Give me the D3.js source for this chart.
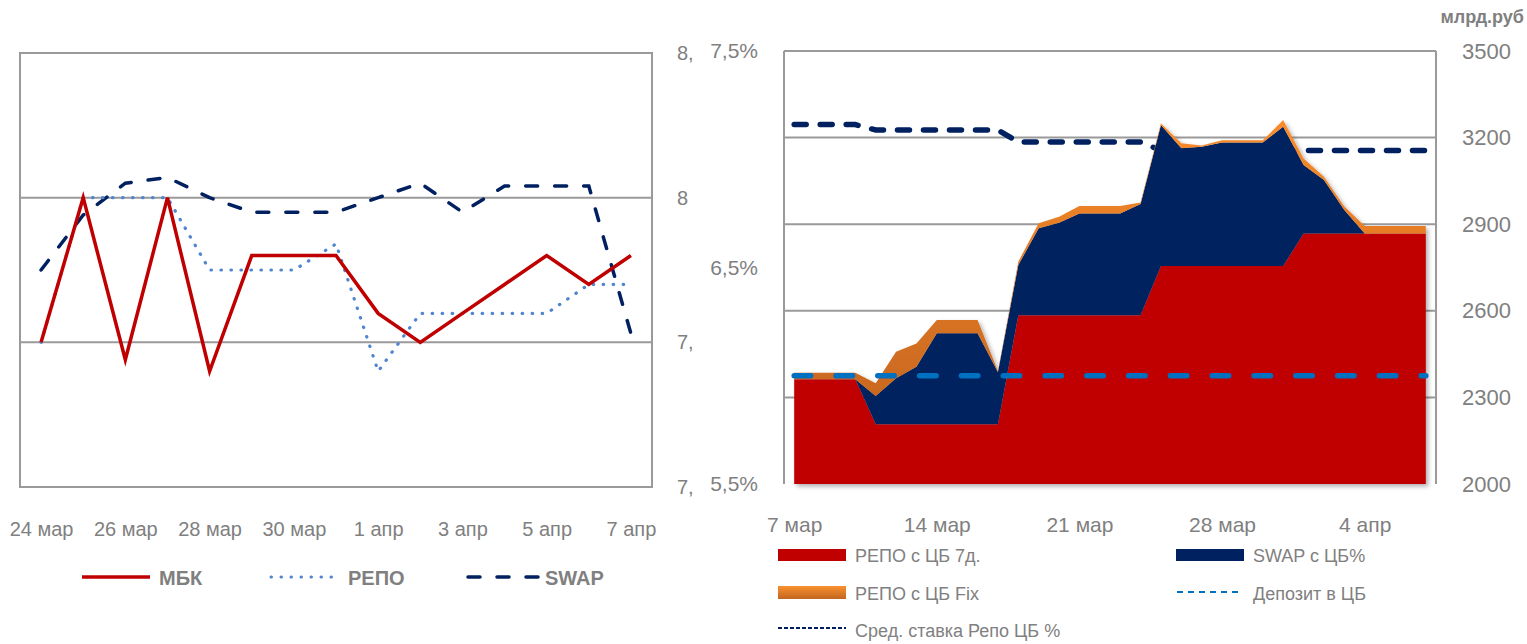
<!DOCTYPE html>
<html><head><meta charset="utf-8">
<script src="https://cdn.jsdelivr.net/npm/d3@7"></script>
<style>
body{margin:0;background:#fff;}
svg text{font-family:"Liberation Sans", Arial, sans-serif; fill:#808080;}
</style></head>
<body>
<svg id="chart" width="1527" height="644"></svg>
<script>
// ---------- LEFT CHART DATA ----------
const leftDates = ["24 мар","25 мар","26 мар","27 мар","28 мар","29 мар","30 мар","31 мар","1 апр","2 апр","3 апр","4 апр","5 апр","6 апр","7 апр"];
const leftTickDates = ["24 мар","26 мар","28 мар","30 мар","1 апр","3 апр","5 апр","7 апр"];
const mbk  = [7.75, 8.00, 7.72, 8.00, 7.70, 7.90, 7.90, 7.90, 7.80, 7.75, 7.80, 7.85, 7.90, 7.85, 7.90];
const repo = [7.75, 8.00, 8.00, 8.00, 7.875, 7.875, 7.875, 7.92, 7.70, 7.80, 7.80, 7.80, 7.80, 7.85, 7.85];
const swap = [7.875, 7.97, 8.025, 8.035, 8.00, 7.975, 7.975, 7.975, 8.00, 8.025, 7.975, 8.02, 8.02, 8.02, 7.765];
const leftYTicks = [7.5, 7.75, 8, 8.25];
const leftLegend = ["МБК", "РЕПО", "SWAP"];

// ---------- RIGHT CHART DATA ----------
const rightDates = ["7 мар","8 мар","9 мар","10 мар","11 мар","12 мар","13 мар","14 мар","15 мар","16 мар","17 мар","18 мар","19 мар","20 мар","21 мар","22 мар","23 мар","24 мар","25 мар","26 мар","27 мар","28 мар","29 мар","30 мар","31 мар","1 апр","2 апр","3 апр","4 апр","5 апр","6 апр","7 апр"];
const rightTickDates = ["7 мар","14 мар","21 мар","28 мар","4 апр"];
const repo7d  = [2363,2363,2363,2363,2207,2207,2207,2207,2207,2207,2207,2585,2585,2585,2585,2585,2585,2585,2755,2755,2755,2755,2755,2755,2755,2868,2868,2868,2868,2868,2868,2868];
const swapCB  = [0,0,0,0,98,159,199,315,315,315,180,174,301,320,352,352,352,385,489,408,413,428,428,428,483,237,185,81,0,0,0,0];
const repoFix = [22,22,22,22,44,92,81,46,46,46,4,11,17,21,26,26,26,5,6,17,5,8,8,8,23,23,11,12,26,26,26,26];
const avgRepoRate = [7.16,7.16,7.16,7.16,7.135,7.135,7.135,7.135,7.135,7.135,7.135,7.08,7.08,7.08,7.08,7.08,7.08,7.08,7.04,7.04,7.04,7.04,7.04,7.04,7.04,7.04,7.04,7.04,7.04,7.04,7.04,7.04];
const depositRate = [6,6,6,6,6,6,6,6,6,6,6,6,6,6,6,6,6,6,6,6,6,6,6,6,6,6,6,6,6,6,6,6];
const volTicks = [2000,2300,2600,2900,3200,3500];
const rateTicks = [5.5,6.5,7.5];
const rightLegend = ["РЕПО с ЦБ 7д.","SWAP с ЦБ%","РЕПО с ЦБ Fix","Депозит в ЦБ","Сред. ставка Репо ЦБ %"];
const unitLabel = "млрд.руб";

const svg = d3.select("#chart");
const GRID = "#9a9a9a", TXT = "#808080";
const comma = d => String(d).replace(".", ",");

const defs = svg.append("defs");
defs.append("clipPath").attr("id","leftClip").append("rect").attr("x",0).attr("y",0).attr("width",694).attr("height",644);
const og = defs.append("linearGradient").attr("id","orangeGrad").attr("gradientUnits","userSpaceOnUse")
  .attr("x1",0).attr("x2",0).attr("y1",110).attr("y2",400);
og.append("stop").attr("offset","0").attr("stop-color","#fb8d2b");
og.append("stop").attr("offset","1").attr("stop-color","#c9681f");
const og2 = defs.append("linearGradient").attr("id","orangeSw").attr("x1",0).attr("x2",0).attr("y1",0).attr("y2",1);
og2.append("stop").attr("offset","0").attr("stop-color","#fb9130");
og2.append("stop").attr("offset","1").attr("stop-color","#c1651f");
const f = defs.append("filter").attr("id","shadow").attr("x","-5%").attr("y","-5%").attr("width","110%").attr("height","110%");
f.append("feDropShadow").attr("dx",2.5).attr("dy",2.5).attr("stdDeviation",2).attr("flood-color","#000").attr("flood-opacity",0.3);

// ================= LEFT CHART =================
const L = {x0:20, x1:652, y0:53, y1:487};
const xL = d3.scalePoint().domain(leftDates).range([L.x0, L.x1]).padding(0.5);
const yL = d3.scaleLinear().domain([7.5, 8.25]).range([L.y1, L.y0]);
const gL = svg.append("g");

gL.selectAll("line.grid").data(leftYTicks.filter(v => v > 7.5 && v < 8.25)).join("line")
  .attr("x1",L.x0).attr("x2",L.x1).attr("y1",d=>yL(d)).attr("y2",d=>yL(d))
  .attr("stroke",GRID).attr("stroke-width",2);
gL.append("rect").attr("x",L.x0).attr("y",L.y0).attr("width",L.x1-L.x0).attr("height",L.y1-L.y0)
  .attr("fill","none").attr("stroke",GRID).attr("stroke-width",2);

const lineL = d3.line().x((d,i)=>xL(leftDates[i])).y(d=>yL(d));
gL.append("path").attr("d",lineL(swap)).attr("fill","none").attr("stroke","#002060")
  .attr("stroke-width",3.5).attr("stroke-dasharray","12,17").attr("stroke-linecap","round");
gL.append("path").attr("d",lineL(repo)).attr("fill","none").attr("stroke","#4f86cf")
  .attr("stroke-width",3.2).attr("stroke-dasharray","0.5,9.5").attr("stroke-linecap","round");
gL.append("path").attr("d",lineL(mbk)).attr("fill","none").attr("stroke","#c00000")
  .attr("stroke-width",3.5).attr("stroke-linejoin","miter");

// right value axis (clipped like reference)
const axL = gL.append("g").attr("clip-path","url(#leftClip)").append("g").attr("transform",`translate(${L.x1},0)`)
  .call(d3.axisRight(yL).tickValues(leftYTicks).tickFormat(comma).tickSize(0).tickPadding(25));
axL.select(".domain").remove();
axL.selectAll("text").attr("font-size",20).attr("font-family",null).style("fill",TXT);

const axLx = gL.append("g").attr("transform",`translate(0,${L.y1})`)
  .call(d3.axisBottom(xL).tickValues(leftTickDates).tickSize(0).tickPadding(35));
axLx.select(".domain").remove();
axLx.selectAll("text").attr("font-size",20).attr("font-family",null).style("fill",TXT);

// left legend
const legL = gL.append("g");
legL.append("line").attr("x1",82).attr("x2",150).attr("y1",577).attr("y2",577).attr("stroke","#c00000").attr("stroke-width",3.5);
legL.append("line").attr("x1",271).attr("x2",332).attr("y1",577).attr("y2",577).attr("stroke","#4f86cf")
  .attr("stroke-width",3).attr("stroke-dasharray","0.5,9.5").attr("stroke-linecap","round");
legL.append("line").attr("x1",468).attr("x2",538).attr("y1",577).attr("y2",577).attr("stroke","#002060")
  .attr("stroke-width",3.5).attr("stroke-dasharray","12,17").attr("stroke-linecap","round");
legL.selectAll("text").data(leftLegend).join("text")
  .attr("x",(d,i)=>[159,348,545][i]).attr("y",585)
  .attr("font-size",20).attr("font-weight","bold").text(d=>d);

// ================= RIGHT CHART =================
const R = {x0:784, x1:1436, y0:51, y1:484};
const xR = d3.scalePoint().domain(rightDates).range([R.x0, R.x1]).padding(0.5);
const yV = d3.scaleLinear().domain([2000,3500]).range([R.y1, R.y0]);
const yP = d3.scaleLinear().domain([5.5,7.5]).range([R.y1, R.y0]);
const gR = svg.append("g");

gR.selectAll("line.grid").data(volTicks.filter(v=>v>2000)).join("line")
  .attr("x1",R.x0).attr("x2",R.x1).attr("y1",d=>yV(d)).attr("y2",d=>yV(d))
  .attr("stroke",GRID).attr("stroke-width",2);
gR.append("line").attr("x1",R.x0).attr("x2",R.x0).attr("y1",R.y0).attr("y2",R.y1).attr("stroke",GRID).attr("stroke-width",2);
gR.append("line").attr("x1",R.x1).attr("x2",R.x1).attr("y1",R.y0).attr("y2",R.y1).attr("stroke",GRID).attr("stroke-width",2);

const lineR = d3.line().x((d,i)=>xR(rightDates[i])).y(d=>yP(d));
gR.append("path").attr("d",lineR(avgRepoRate)).attr("fill","none").attr("stroke","#002060")
  .attr("stroke-width",5.5).attr("stroke-dasharray","12,14").attr("stroke-linecap","round");

const table = rightDates.map((d,i)=>({date:d, repo7d:repo7d[i], swapCB:swapCB[i], repoFix:repoFix[i]}));
const stack = d3.stack().keys(["repo7d","swapCB","repoFix"])(table);
const vMin = yV.domain()[0];
const areaR = d3.area().x(d=>xR(d.data.date)).y0(d=>yV(Math.max(d[0], vMin))).y1(d=>yV(d[1]));
const fills = {repo7d:"#c00000", swapCB:"#00215f", repoFix:"url(#orangeGrad)"};
const ga = gR.append("g").attr("filter","url(#shadow)");
ga.selectAll("path").data(stack).join("path").attr("d",areaR).attr("fill",d=>fills[d.key]);

gR.append("path").attr("d",lineR(depositRate)).attr("fill","none").attr("stroke","#0070c0")
  .attr("stroke-width",5.5).attr("stroke-dasharray","16.5,25.3").attr("stroke-linecap","round");

const axP = gR.append("g").attr("transform",`translate(${R.x0},0)`)
  .call(d3.axisLeft(yP).tickValues(rateTicks).tickFormat(d=>comma(d.toFixed(1))+"%").tickSize(0).tickPadding(26));
axP.select(".domain").remove();
axP.selectAll("text").attr("font-size",21).attr("font-family",null).style("fill",TXT);

const axV = gR.append("g").attr("transform",`translate(${R.x1},0)`)
  .call(d3.axisRight(yV).tickValues(volTicks).tickFormat(d3.format("d")).tickSize(0).tickPadding(26));
axV.select(".domain").remove();
axV.selectAll("text").attr("font-size",22).attr("font-family",null).style("fill",TXT);

const axRx = gR.append("g").attr("transform",`translate(0,${R.y1})`)
  .call(d3.axisBottom(xR).tickValues(rightTickDates).tickSize(0).tickPadding(33));
axRx.select(".domain").remove();
axRx.selectAll("text").attr("font-size",21).attr("font-family",null).style("fill",TXT);

gR.append("text").attr("x",1524).attr("y",23).attr("text-anchor","end")
  .attr("font-size",18).attr("font-weight","bold").text(unitLabel);

// right legend
const legR = gR.append("g");
legR.append("rect").attr("x",778).attr("y",549).attr("width",68).attr("height",12).attr("fill","#c00000");
legR.append("rect").attr("x",1176).attr("y",549).attr("width",68).attr("height",12).attr("fill","#00215f");
legR.append("rect").attr("x",778).attr("y",586).attr("width",68).attr("height",13).attr("fill","url(#orangeSw)");
legR.append("line").attr("x1",1177).attr("x2",1240).attr("y1",592).attr("y2",592).attr("stroke","#0070c0")
  .attr("stroke-width",2).attr("stroke-dasharray","6,5");
legR.append("line").attr("x1",778).attr("x2",846).attr("y1",628).attr("y2",628).attr("stroke","#002060")
  .attr("stroke-width",2).attr("stroke-dasharray","4,2");
const legPos = [[855,562],[1253,562],[855,600],[1253,600],[855,637]];
legR.selectAll("text").data(rightLegend).join("text")
  .attr("x",(d,i)=>legPos[i][0]).attr("y",(d,i)=>legPos[i][1])
  .attr("font-size",18).text(d=>d);
</script>
</body></html>
